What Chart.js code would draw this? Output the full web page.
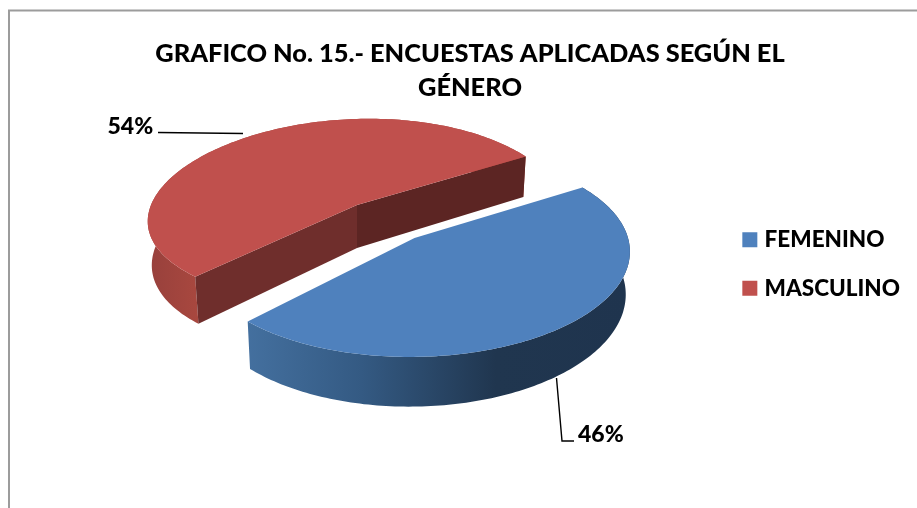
<!DOCTYPE html>
<html><head><meta charset="utf-8">
<style>html,body{margin:0;padding:0;background:#fff}#c{display:block}</style>
<script src="https://cdn.jsdelivr.net/npm/chart.js@4"></script>
</head><body>
<canvas id="c" width="917" height="508"></canvas>
<script>
const titleLines = ['GRAFICO No. 15.- ENCUESTAS APLICADAS SEGÚN EL', 'GÉNERO'];
const categories = ['FEMENINO', 'MASCULINO'];
const percentages = [46, 54];
const topColors = ['#4f81bd', '#c0504d'];
const FONT = 'Lato, Carlito, sans-serif';

// projection of the flat pie into the tilted, exploded 3D look
const look = [
  { ax:414.5, ay:238, rx:213.5, ry:100.5, qx:.155, qy:.155, qd:.155, skew:-5, depth:42 },
  { ax:357, ay:205, rx:206, ry:92.3, qx:.12, qy:.07, qd:.12, skew:-12, depth:43 }
];
function proj(l, th, rad, low){
  const X = Math.cos(th)*rad, Y = Math.sin(th)*rad;
  let x = l.ax + l.rx*X/(1-l.qx*Y) + l.skew*Y;
  let y = l.ay + l.ry*Y/(1-l.qy*Y);
  if (low){ y += l.depth/(1-l.qd*Y); x = 386 + (x-386)*0.983; }
  return [x,y];
}
function poly(ctx, pts, fill){
  ctx.beginPath();
  pts.forEach((p,i)=> i?ctx.lineTo(p[0],p[1]):ctx.moveTo(p[0],p[1]));
  ctx.closePath(); ctx.fillStyle = fill; ctx.fill();
}
function arcPts(l, a, b, low){
  const pts=[], n=160;
  for(let i=0;i<=n;i++) pts.push(proj(l, a+(b-a)*i/n, 1, low));
  return pts;
}
function wallGradient(ctx, x0, x1, stops){
  const g = ctx.createLinearGradient(x0,0,x1,0);
  stops.forEach(s=>g.addColorStop(s[0],s[1]));
  return g;
}
function line(ctx, pts){
  ctx.beginPath();
  pts.forEach((p,i)=> i?ctx.lineTo(p[0],p[1]):ctx.moveTo(p[0],p[1]));
  ctx.strokeStyle='#000'; ctx.lineWidth=1.4; ctx.stroke();
}
const pie3d = {
  id:'pie3d',
  beforeDraw(chart){
    const ctx=chart.ctx; ctx.save();
    ctx.strokeStyle='#9c9c9c'; ctx.lineWidth=2;
    ctx.beginPath(); ctx.moveTo(9,520); ctx.lineTo(9,10.5); ctx.lineTo(930,10.5); ctx.stroke();
    ctx.restore();
  },
  beforeDatasetsDraw(chart){
    const ctx=chart.ctx, els=chart.getDatasetMeta(0).data;
    ctx.save();
    // red slice (behind)
    {
      const e=els[1], l=look[1], a=e.startAngle, b=e.endAngle;
      const top=arcPts(l,a,b,false), low=arcPts(l,a,b,true);
      poly(ctx, top.concat(low.slice().reverse()), wallGradient(ctx,147,200,[[0,'#97403c'],[1,'#a9483f']]));
      const apexT=[l.ax,l.ay], apexL=[l.ax,l.ay+l.depth];
      poly(ctx,[apexT,top[0],low[0],apexL],'#6f2e2c');
      poly(ctx,[apexT,top[top.length-1],low[low.length-1],apexL],'#5c2523');
      poly(ctx,[apexT].concat(top),topColors[1]);
    }
    // blue slice (front)
    {
      const e=els[0], l=look[0], a=e.startAngle, b=e.endAngle;
      const top=arcPts(l,a,b,false), low=arcPts(l,a,b,true);
      poly(ctx, top.concat(low.slice().reverse()), wallGradient(ctx,246,630,[[0,'#44709f'],[.3,'#345a83'],[.65,'#20364f'],[1,'#1f344e']]));
      poly(ctx,[[l.ax,l.ay]].concat(top),topColors[0]);
    }
    ctx.restore();
    return false;
  },
  afterDraw(chart){
    const ctx=chart.ctx;
    ctx.save();
    line(ctx,[[158,132.5],[243,133.5]]);
    line(ctx,[[556.5,378],[562,441],[574,441]]);
    ctx.fillStyle='#000'; ctx.font='900 23px '+FONT; ctx.textBaseline='alphabetic'; ctx.textAlign='left';
    ctx.fillText(percentages[1]+'%',107.5,134);
    ctx.fillText(percentages[0]+'%',578,442);
    ctx.restore();
  }
};
Chart.register(pie3d);
new Chart(document.getElementById('c'),{
  type:'pie',
  data:{labels:categories,datasets:[{data:percentages,backgroundColor:topColors,borderColor:topColors,borderWidth:8}]},
  options:{
    responsive:false,animation:false,rotation:57,
    layout:{padding:{left:30,right:7,top:20,bottom:0}},
    plugins:{
      tooltip:{enabled:false},
      title:{display:true,text:titleLines,font:{family:FONT,size:25.4,weight:'900',lineHeight:1.33},color:'#000',padding:{top:17,bottom:4}},
      legend:{position:'right',labels:{boxWidth:7,boxHeight:7,padding:26,color:'#000',font:{family:FONT,size:22.5,weight:'900'}}}
    }
  }
});
</script>
</body></html>
